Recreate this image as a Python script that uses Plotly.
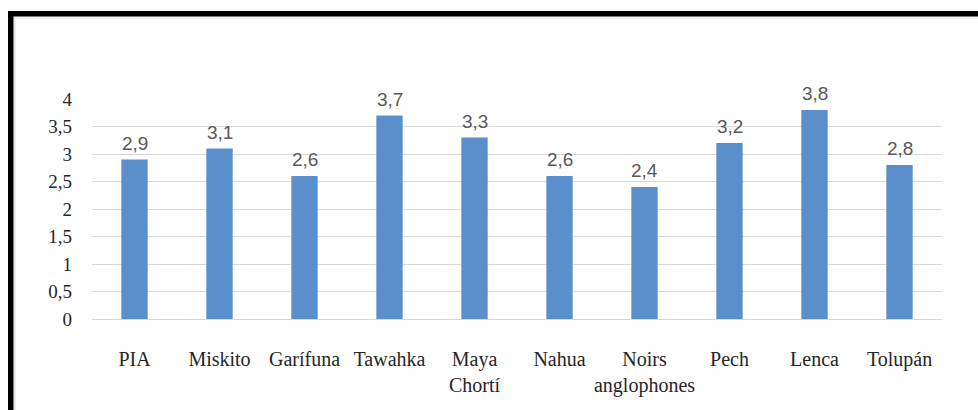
import plotly.graph_objects as go

# Category labels (x axis) and mean scores per group
groups = ["PIA", "Miskito", "Garífuna", "Tawahka", "Maya<br>Chortí", "Nahua",
          "Noirs<br>anglophones", "Pech", "Lenca", "Tolupán"]
scores = [2.9, 3.1, 2.6, 3.7, 3.3, 2.6, 2.4, 3.2, 3.8, 2.8]
y_ticks = [0, 0.5, 1, 1.5, 2, 2.5, 3, 3.5, 4]

W, H = 978, 410
L, R, T, B = 92, 36, 99, 91
PW, PH = W - L - R, H - T - B

SERIF = "Liberation Serif, Times New Roman, DejaVu Serif, serif"


def px_x(p):
    return (p - L) / PW


def px_y(p):
    return (H - B - p) / PH


fig = go.Figure()
fig.add_trace(go.Bar(
    x=groups, y=scores,
    marker=dict(color="#5B8FCB", line=dict(width=0)),
    width=0.31,
    hoverinfo="skip",
))

# value labels above each bar, decimal comma
for g, v in zip(groups, scores):
    fig.add_annotation(
        x=g, y=v, text=f"{v:.1f}".replace(".", ","),
        showarrow=False, yanchor="bottom", yshift=4,
        font=dict(family="Liberation Sans, Arial, sans-serif", size=19, color="#595959"),
    )

# black frame on the left and top edges
fig.add_shape(type="rect", xref="paper", yref="paper",
              x0=px_x(8), x1=px_x(13.5), y0=px_y(410), y1=px_y(11),
              fillcolor="black", line=dict(width=0), layer="above")
fig.add_shape(type="rect", xref="paper", yref="paper",
              x0=px_x(8), x1=px_x(978), y0=px_y(16.5), y1=px_y(11),
              fillcolor="black", line=dict(width=0), layer="above")
fig.add_shape(type="line", xref="paper", yref="paper",
              x0=px_x(15), x1=px_x(15), y0=px_y(410), y1=px_y(17),
              line=dict(color="#E6E6E6", width=1.5))
fig.add_shape(type="line", xref="paper", yref="paper",
              x0=px_x(15), x1=px_x(978), y0=px_y(18), y1=px_y(18),
              line=dict(color="#EEEEEE", width=1.5))

fig.update_layout(
    width=W, height=H,
    margin=dict(l=L, r=R, t=T, b=B, pad=0),
    paper_bgcolor="white", plot_bgcolor="white",
    separators=", ",
    showlegend=False,
    bargap=0.69,
    xaxis=dict(
        showgrid=False, showline=False, zeroline=False, ticks="",
        tickfont=dict(family=SERIF, size=20, color="#262626"),
        ticklabelstandoff=26,
    ),
    yaxis=dict(
        range=[0, 4], tickvals=y_ticks,
        showgrid=True, gridcolor="#D9D9D9", gridwidth=1,
        zeroline=True, zerolinecolor="#D9D9D9", zerolinewidth=1,
        showline=False, ticks="",
        tickfont=dict(family=SERIF, size=19, color="#262626"),
        ticklabelstandoff=19,
    ),
)

fig.write_html("out.html")
